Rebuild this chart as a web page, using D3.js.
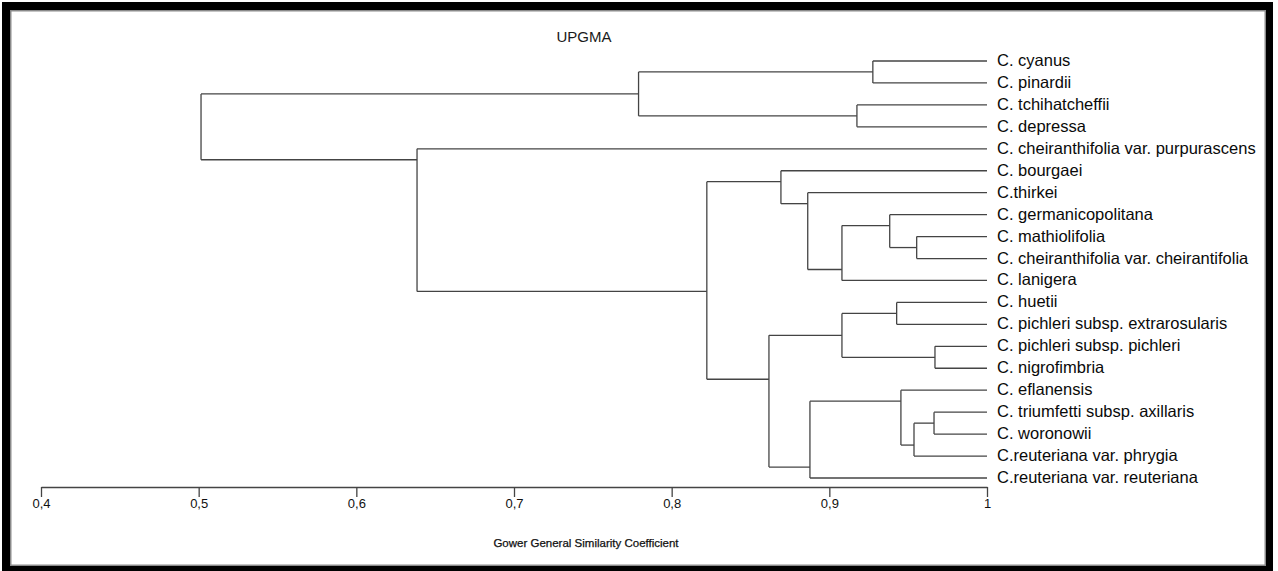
<!DOCTYPE html>
<html>
<head>
<meta charset="utf-8">
<script src="https://cdn.jsdelivr.net/npm/d3@7"></script>
<style>
  html, body { margin: 0; padding: 0; background: #fff; }
  svg { display: block; }
</style>
</head>
<body>
<div id="chart"></div>
<script>
// leaves in display order, top to bottom
const taxa = [
  "C. cyanus",
  "C. pinardii",
  "C. tchihatcheffii",
  "C. depressa",
  "C. cheiranthifolia var. purpurascens",
  "C. bourgaei",
  "C.thirkei",
  "C. germanicopolitana",
  "C. mathiolifolia",
  "C. cheiranthifolia var. cheirantifolia",
  "C. lanigera",
  "C. huetii",
  "C. pichleri subsp. extrarosularis",
  "C. pichleri subsp. pichleri",
  "C. nigrofimbria",
  "C. eflanensis",
  "C. triumfetti subsp. axillaris",
  "C. woronowii",
  "C.reuteriana var. phrygia",
  "C.reuteriana var. reuteriana"
];

// linkage: [child a, child b, similarity]; ids >= taxa.length are earlier merges
const merges = [
  [16, 17, 0.9664],  // 20
  [13, 14, 0.967],   // 21
  [8, 9, 0.9554],    // 22
  [20, 18, 0.9537],  // 23
  [15, 23, 0.9454],  // 24
  [11, 12, 0.9427],  // 25
  [7, 22, 0.9383],   // 26
  [0, 1, 0.9276],    // 27
  [2, 3, 0.9175],    // 28
  [26, 10, 0.908],   // 29
  [25, 21, 0.908],   // 30
  [24, 19, 0.8877],  // 31
  [6, 29, 0.8863],   // 32
  [5, 32, 0.8693],   // 33
  [30, 31, 0.8617],  // 34
  [33, 34, 0.8223],  // 35
  [27, 28, 0.779],   // 36
  [4, 35, 0.6385],   // 37
  [36, 37, 0.5015]   // 38
];

const tickValues = [0.4, 0.5, 0.6, 0.7, 0.8, 0.9, 1];
const tickLabels = ["0,4", "0,5", "0,6", "0,7", "0,8", "0,9", "1"];
const title = "UPGMA";
const axisTitle = "Gower General Similarity Coefficient";

const W = 1278, H = 571;
const lineColor = "#444";

const svg = d3.select("#chart")
  .append("svg")
  .attr("width", W)
  .attr("height", H);

// frame
svg.append("rect").attr("x", 2).attr("y", 2).attr("width", 1271).attr("height", 580).attr("fill", "#000");
svg.append("rect").attr("x", 10).attr("y", 10).attr("width", 1256).attr("height", 556).attr("fill", "#8a8a8a");
svg.append("rect").attr("x", 11.5).attr("y", 11.5).attr("width", 1253).attr("height", 553).attr("fill", "#fff");

const x = d3.scaleLinear()
  .domain([0.4, 1])
  .range([41, 987]);

const y = d3.scaleLinear()
  .domain([0, taxa.length - 1])
  .range([61, 478]);

// build nodes
const nodes = taxa.map((name, i) => ({ id: i, name, sim: 1, lo: i, hi: i, pos: i }));
merges.forEach(([a, b, sim], k) => {
  let c1 = nodes[a], c2 = nodes[b];
  if (c2.lo < c1.lo) [c1, c2] = [c2, c1];
  nodes.push({
    id: taxa.length + k,
    sim,
    children: [c1, c2],
    lo: c1.lo,
    hi: c2.hi,
    // joins at the gap between the two child groups
    pos: (c1.hi + c2.lo) / 2
  });
});

const g = svg.append("g")
  .attr("fill", "none")
  .attr("stroke", lineColor)
  .attr("stroke-width", 1.3);

nodes.filter(n => n.children).forEach(n => {
  const [c1, c2] = n.children;
  g.append("line")
    .attr("x1", x(n.sim)).attr("x2", x(n.sim))
    .attr("y1", y(c1.pos)).attr("y2", y(c2.pos));
  n.children.forEach(c => {
    g.append("line")
      .attr("x1", x(n.sim)).attr("x2", x(c.sim))
      .attr("y1", y(c.pos)).attr("y2", y(c.pos));
  });
});

svg.append("g")
  .selectAll("text")
  .data(taxa)
  .join("text")
  .attr("x", x(1) + 10)
  .attr("y", (d, i) => y(i) + 5)
  .attr("font-family", "'Liberation Sans', Arial, sans-serif")
  .attr("font-size", 16.5)
  .attr("fill", "#0a0a0a")
  .text(d => d);

// axis
const axis = svg.append("g")
  .attr("transform", "translate(0,487)")
  .call(d3.axisBottom(x)
    .tickValues(tickValues)
    .tickFormat((d, i) => tickLabels[i])
    .tickSize(10)
    .tickSizeOuter(0)
    .tickPadding(2));
axis.selectAll("path, line").attr("stroke", lineColor).attr("stroke-width", 1.3);
axis.selectAll("text")
  .attr("font-family", "'Liberation Sans Narrow', 'Liberation Sans', Arial, sans-serif")
  .attr("font-size", 13)
  .attr("fill", "#111");

svg.append("text")
  .attr("x", 584)
  .attr("y", 42)
  .attr("text-anchor", "middle")
  .attr("font-family", "'Liberation Sans', Arial, sans-serif")
  .attr("font-size", 15)
  .attr("fill", "#1a1a1a")
  .text(title);

svg.append("text")
  .attr("x", 586)
  .attr("y", 547)
  .attr("text-anchor", "middle")
  .attr("font-family", "'Liberation Sans', Arial, sans-serif")
  .attr("font-size", 11.5)
  .attr("fill", "#111")
  .attr("stroke", "#111")
  .attr("stroke-width", 0.25)
  .text(axisTitle);
</script>
</body>
</html>
